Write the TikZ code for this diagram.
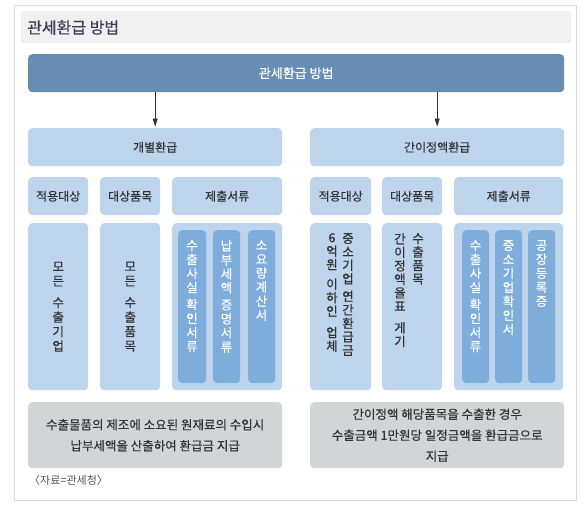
\documentclass[tikz,border=0pt]{standalone}
\usepackage{fontspec}
\setmainfont{Noto Sans CJK KR}
\newfontfamily\medfont[FakeBold=0.6]{Noto Sans CJK KR}
\newfontfamily\lightmed[FakeBold=0.3]{Noto Sans CJK KR}
\usetikzlibrary{arrows.meta}
\definecolor{barblue}{HTML}{678DB3}
\definecolor{lightblue}{HTML}{BDD4EC}
\definecolor{midblue}{HTML}{7EADDC}
\definecolor{boxgray}{HTML}{D3D4D6}
\definecolor{headgray}{HTML}{F0F0F0}
\definecolor{framegray}{HTML}{DCDCDC}
\definecolor{txt}{HTML}{333333}
\definecolor{titletxt}{HTML}{3C3C58}
\tikzset{
  bx/.style={rounded corners=4pt, inner sep=0pt, anchor=north west, text=txt,
    font=\lightmed\fontsize{12}{14}\selectfont},
  lb/.style={bx, fill=lightblue},
  mb/.style={bx, fill=midblue},
  gb/.style={bx, fill=boxgray, align=center, font=\lightmed\fontsize{12.5}{21}\selectfont},
  vt/.style={inner sep=0pt, align=center, text=txt, font=\medfont\fontsize{12.5}{14.5}\selectfont},
  vw/.style={vt, text=white, font=\lightmed\fontsize{12.5}{14}\selectfont},
  arr/.style={draw=txt, line width=0.8pt, -{Triangle[length=8pt,width=5pt]}, shorten >=1.5pt},
}
\begin{document}
\begin{tikzpicture}[x=1pt, y=-1pt]
\useasboundingbox (0,0) rectangle (587,514);
% frame and header
\draw[framegray, line width=1pt] (14.5,5.5) rectangle (576.5,500.5);
\fill[headgray] (21,11) rectangle (571,43);
\node[anchor=west, inner sep=0pt, text=titletxt, font=\lightmed\fontsize{16}{18}\selectfont] (title) at (27,27.5) {관세환급 방법};
% top bar
\node[bx, fill=barblue, minimum width=536pt, minimum height=38pt, text=white,
  font=\medfont\fontsize{13}{15}\selectfont] (top) at (28,54) {관세환급 방법};
% level headers
\node[lb, minimum width=254pt, minimum height=38pt] (hl) at (28,128) {개별환급};
\node[lb, minimum width=254pt, minimum height=38pt] (hr) at (310,128) {간이정액환급};
\draw[arr] (top.south -| hl.north) -- (hl.north);
\draw[arr] (top.south -| hr.north) -- (hr.north);
% sub headers
\node[lb, minimum width=60pt, minimum height=38pt] (s1) at (28,177) {적용대상};
\node[lb, minimum width=60pt, minimum height=38pt] (s2) at (100,177) {대상품목};
\node[lb, minimum width=110pt, minimum height=38pt] (s3) at (172,177) {제출서류};
\node[lb, minimum width=61pt, minimum height=38pt] (s4) at (310,177) {적용대상};
\node[lb, minimum width=60pt, minimum height=38pt] (s5) at (382,177) {대상품목};
\node[lb, minimum width=109pt, minimum height=38pt] (s6) at (454,177) {제출서류};
% content boxes
\node[lb, minimum width=60pt, minimum height=167pt] (c1) at (28,223) {};
\node[lb, minimum width=60pt, minimum height=167pt] (c2) at (100,223) {};
\node[lb, minimum width=110pt, minimum height=167pt] (c3) at (172,223) {};
\node[lb, minimum width=61pt, minimum height=167pt] (c4) at (310,223) {};
\node[lb, minimum width=60pt, minimum height=167pt] (c5) at (382,223) {};
\node[lb, minimum width=109pt, minimum height=167pt] (c6) at (454,223) {};
% inner columns
\node[mb, minimum width=28pt, minimum height=153pt] (i1) at (178,230) {};
\node[mb, minimum width=27pt, minimum height=153pt] (i2) at (213,230) {};
\node[mb, minimum width=27pt, minimum height=153pt] (i3) at (248,230) {};
\node[mb, minimum width=27pt, minimum height=153pt] (i4) at (462,230) {};
\node[mb, minimum width=27pt, minimum height=153pt] (i5) at (495,230) {};
\node[mb, minimum width=27pt, minimum height=153pt] (i6) at (528,230) {};
% vertical texts, left
\node[vt] (t1) at (c1.center) {모\\든\\[7pt]수\\출\\기\\업};
\node[vt] (t2) at (c2.center) {모\\든\\[7pt]수\\출\\품\\목};
\node[vw, anchor=north] (t3) at (192,240) {수\\출\\사\\실\\[3pt]확\\인\\서\\류};
\node[vw, anchor=north] (t4) at (226.5,240) {납\\부\\세\\액\\[3pt]증\\명\\서\\류};
\node[vw, anchor=north] (t5) at (261.5,240) {소\\요\\량\\계\\산\\서};
% vertical texts, right
\node[vt, anchor=north, font=\medfont\fontsize{12.5}{13.5}\selectfont] (t6) at (348,233) {중\\소\\기\\업\\[4pt]연\\간\\환\\급\\금};
\node[vt, anchor=north, font=\medfont\fontsize{12.5}{13.5}\selectfont] (t7) at (332,233) {6\\억\\원\\[6pt]이\\하\\인\\[8pt]업\\체};
\node[vt, anchor=north, font=\medfont\fontsize{12.5}{13.5}\selectfont] (t8) at (418,233) {수\\출\\품\\목};
\node[vt, anchor=north, font=\medfont\fontsize{12.5}{13.5}\selectfont] (t9) at (400,233) {간\\이\\정\\액\\율\\표\\[8pt]게\\기};
\node[vw, anchor=north] (t10) at (475.5,240) {수\\출\\사\\실\\[3pt]확\\인\\서\\류};
\node[vw, anchor=north] (t11) at (508.5,240) {중\\소\\기\\업\\확\\인\\서};
\node[vw, anchor=north] (t12) at (541.5,240) {공\\장\\등\\록\\증};
% bottom boxes
\node[gb, minimum width=254pt, minimum height=66pt] (b1) at (28,402)
  {수출물품의 제조에 소요된 원재료의 수입시\\납부세액을 산출하여 환급금 지급};
\node[gb, minimum width=254pt, minimum height=66pt] (b2) at (310,402)
  {간이정액 해당품목을 수출한 경우\\수출금액 1만원당 일정금액을 환급금으로\\지급};
% source
\node[anchor=west, inner sep=0pt, text=txt!85, font=\fontsize{11}{13}\selectfont] (src) at (29,480) {〈자료=관세청〉};
\end{tikzpicture}
\end{document}
